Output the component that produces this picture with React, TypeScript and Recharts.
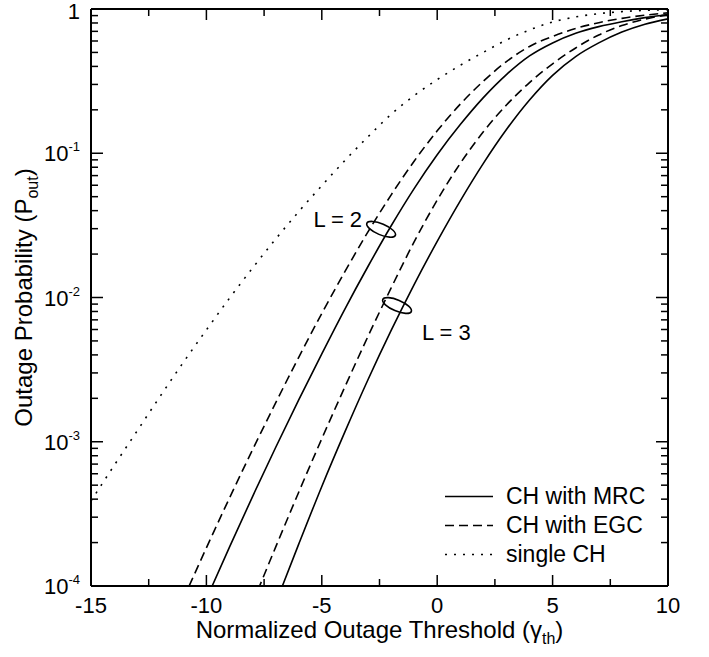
import { LineChart, Line, XAxis, YAxis, Legend, ReferenceDot } from 'recharts';

// normalized outage threshold (dB)
const thresholdDb = [
  -15, -14, -13, -12, -11, -10, -9, -8, -7, -6, -5, -4, -3, -2, -1, 0, 1, 2, 3, 4, 5, 6, 7, 8, 9, 10,
];

// outage probability
const singleCh = [
  3.89e-4, 6.84e-4, 1.19e-3, 2.07e-3, 3.55e-3, 5.96e-3, 9.89e-3, 1.6e-2, 2.54e-2, 3.94e-2, 5.96e-2,
  8.91e-2, 0.13, 0.186, 0.251, 0.324, 0.407, 0.501, 0.61, 0.716, 0.813, 0.881, 0.929, 0.959, 0.979,
  0.991,
];
const egcL2 = [
  null, null, null, null, 8.13e-5, 1.84e-4, 4.07e-4, 8.81e-4, 1.86e-3, 3.85e-3, 7.76e-3, 1.51e-2,
  2.85e-2, 5.13e-2, 8.81e-2, 0.143, 0.219, 0.316, 0.432, 0.55, 0.646, 0.733, 0.804, 0.861, 0.906,
  0.94,
];
const mrcL2 = [
  null, null, null, null, null, 8.13e-5, 1.86e-4, 4.17e-4, 9.12e-4, 1.95e-3, 4.07e-3, 8.32e-3,
  1.64e-2, 3.13e-2, 5.69e-2, 9.77e-2, 0.158, 0.243, 0.351, 0.473, 0.582, 0.679, 0.755, 0.817, 0.871,
  0.916,
];
const egcL3 = [
  null, null, null, null, null, null, null, 7.59e-5, 1.86e-4, 4.47e-4, 1.05e-3, 2.4e-3, 5.37e-3,
  1.16e-2, 2.43e-2, 4.73e-2, 8.51e-2, 0.141, 0.216, 0.309, 0.417, 0.537, 0.661, 0.767, 0.851, 0.912,
];
const mrcL3 = [
  null, null, null, null, null, null, null, null, 7.59e-5, 1.95e-4, 4.9e-4, 1.17e-3, 2.69e-3, 5.89e-3,
  1.23e-2, 2.45e-2, 4.68e-2, 8.51e-2, 0.146, 0.234, 0.347, 0.468, 0.582, 0.692, 0.785, 0.855,
];

// "L = n" group markers (ellipse centre in data coords)
const groupLabels = ['L = 2', 'L = 3'];
const groupX = [-2.43, -1.74];
const groupP = [0.0297, 0.0088];

const xMajor = [-15, -10, -5, 0, 5, 10];
const xTicks = [-15, -12.5, -10, -7.5, -5, -2.5, 0, 2.5, 5, 7.5, 10];
const decades = [-4, -3, -2, -1];

const legendItems = [
  { label: 'CH with MRC', dash: undefined },
  { label: 'CH with EGC', dash: '9 5' },
  { label: 'single CH', dash: '2 7' },
];

const data = thresholdDb.map((x, i) => ({
  x,
  single: singleCh[i],
  egc2: egcL2[i],
  mrc2: mrcL2[i],
  egc3: egcL3[i],
  mrc3: mrcL3[i],
}));

const yTicks: number[] = [];
decades.forEach((d) => {
  for (let k = 1; k <= 9; k++) yTicks.push(k * Math.pow(10, d));
});
yTicks.push(1);

const FONT = '"Liberation Sans", Arial, Helvetica, sans-serif';
const W = 709;
const H = 657;
const PLOT_L = 91;
const PLOT_R = 668;
const PLOT_T = 9;
const PLOT_B = 586;

const isDecade = (v: number) => {
  const d = Math.log10(v);
  return Math.abs(d - Math.round(d)) < 1e-6;
};

const BottomTick = ({ x, y, payload }: any) => {
  const major = xMajor.includes(payload.value);
  return (
    <g>
      <line x1={x} x2={x} y1={y} y2={y - (major ? 11 : 7)} stroke="#000" strokeWidth={1.5} />
      {major && (
        <text x={x} y={y + 27} textAnchor="middle" fontSize={22} fontFamily={FONT} fill="#000">
          {payload.value}
        </text>
      )}
    </g>
  );
};

const TopTick = ({ x, y, payload }: any) => {
  const major = xMajor.includes(payload.value);
  return <line x1={x} x2={x} y1={y} y2={y + (major ? 11 : 7)} stroke="#000" strokeWidth={1.5} />;
};

const LeftTick = ({ x, y, payload }: any) => {
  const v = payload.value;
  const major = isDecade(v);
  const exp = Math.round(Math.log10(v));
  return (
    <g>
      <line x1={x} x2={x + (major ? 12 : 7)} y1={y} y2={y} stroke="#000" strokeWidth={1.5} />
      {major && (
        <text x={80} y={y + (exp === 0 ? 10 : 8)} textAnchor="end" fontSize={22} fontFamily={FONT} fill="#000">
          {exp === 0 ? (
            '1'
          ) : (
            <>
              10
              <tspan fontSize={13} dy={-10}>
                {exp}
              </tspan>
            </>
          )}
        </text>
      )}
    </g>
  );
};

const RightTick = ({ x, y, payload }: any) => {
  const major = isDecade(payload.value);
  return <line x1={x} x2={x - (major ? 12 : 7)} y1={y} y2={y} stroke="#000" strokeWidth={1.5} />;
};

const XTitle = () => (
  <text x={(PLOT_L + PLOT_R) / 2} y={638} textAnchor="middle" fontSize={24} fontFamily={FONT} fill="#000">
    Normalized Outage Threshold (γ
    <tspan fontSize={16} dy={6}>
      th
    </tspan>
    <tspan dy={-6}>)</tspan>
  </text>
);

const YTitle = () => {
  const cx = 32;
  const cy = (PLOT_T + PLOT_B) / 2;
  return (
    <text
      x={cx}
      y={cy}
      transform={`rotate(-90 ${cx} ${cy})`}
      textAnchor="middle"
      fontSize={24}
      fontFamily={FONT}
      fill="#000"
    >
      Outage Probability (P
      <tspan fontSize={16} dy={6}>
        out
      </tspan>
      <tspan dy={-6}>)</tspan>
    </text>
  );
};

const groupShape = (i: number) => (props: any) => {
  const { cx, cy } = props;
  const textPos = i === 0 ? { dx: -19, dy: -2, anchor: 'end' } : { dx: 25, dy: 34, anchor: 'start' };
  return (
    <g>
      <ellipse
        cx={cx}
        cy={cy}
        rx={15.5}
        ry={5.5}
        transform={`rotate(23 ${cx} ${cy})`}
        fill="none"
        stroke="#000"
        strokeWidth={1.6}
      />
      <text
        x={cx + textPos.dx}
        y={cy + textPos.dy}
        textAnchor={textPos.anchor as any}
        fontSize={22}
        fontFamily={FONT}
        fill="#000"
      >
        {groupLabels[i]}
      </text>
    </g>
  );
};

const LegendBox = () => (
  <div style={{ fontFamily: FONT, fontSize: 23, color: '#000' }}>
    {legendItems.map((item) => (
      <div key={item.label} style={{ display: 'flex', alignItems: 'center', height: 29 }}>
        <svg width={48} height={29} style={{ display: 'block' }}>
          <line x1={0} x2={48} y1={14.5} y2={14.5} stroke="#000" strokeWidth={1.6} strokeDasharray={item.dash} />
        </svg>
        <span style={{ marginLeft: 13, whiteSpace: 'nowrap', lineHeight: '29px' }}>{item.label}</span>
      </div>
    ))}
  </div>
);

export default function App() {
  const lineProps = {
    stroke: '#000',
    strokeWidth: 1.6,
    dot: false,
    activeDot: false,
    type: 'monotoneX' as const,
    isAnimationActive: false,
    connectNulls: false,
    legendType: 'none' as const,
  };
  return (
    <div style={{ position: 'absolute', left: 0, top: 0, background: '#fff' }}>
      <LineChart
        width={W}
        height={H}
        data={data}
        margin={{ top: PLOT_T - 1, right: W - PLOT_R - 1, bottom: H - PLOT_B - 40, left: 0 }}
      >
        <XAxis
          dataKey="x"
          type="number"
          domain={[-15, 10]}
          allowDataOverflow
          ticks={xTicks}
          interval={0}
          tickSize={0}
          tickMargin={0}
          tickLine={false}
          tick={<BottomTick />}
          height={40}
          axisLine={{ stroke: '#000', strokeWidth: 2 }}
          label={<XTitle />}
        />
        <XAxis
          xAxisId="top"
          orientation="top"
          dataKey="x"
          type="number"
          domain={[-15, 10]}
          allowDataOverflow
          ticks={xTicks}
          interval={0}
          tickSize={0}
          tickMargin={0}
          tickLine={false}
          tick={<TopTick />}
          height={1}
          axisLine={{ stroke: '#000', strokeWidth: 2 }}
        />
        <YAxis
          scale="log"
          type="number"
          domain={[1e-4, 1]}
          allowDataOverflow
          ticks={yTicks}
          interval={0}
          tickSize={0}
          tickMargin={0}
          tickLine={false}
          tick={<LeftTick />}
          width={PLOT_L}
          axisLine={{ stroke: '#000', strokeWidth: 2 }}
          label={<YTitle />}
        />
        <YAxis
          yAxisId="right"
          orientation="right"
          scale="log"
          type="number"
          domain={[1e-4, 1]}
          allowDataOverflow
          ticks={yTicks}
          interval={0}
          tickSize={0}
          tickMargin={0}
          tickLine={false}
          tick={<RightTick />}
          width={1}
          axisLine={{ stroke: '#000', strokeWidth: 2 }}
        />
        <Line dataKey="single" strokeDasharray="2 7" {...lineProps} />
        <Line dataKey="egc2" strokeDasharray="9 5" {...lineProps} />
        <Line dataKey="mrc2" {...lineProps} />
        <Line dataKey="egc3" strokeDasharray="9 5" {...lineProps} />
        <Line dataKey="mrc3" {...lineProps} />
        {groupLabels.map((label, i) => (
          <ReferenceDot key={label} x={groupX[i]} y={groupP[i]} r={0} shape={groupShape(i)} />
        ))}
        <Legend
          layout="vertical"
          align="center"
          verticalAlign="middle"
          content={<LegendBox />}
          wrapperStyle={{ left: 445, top: 482, width: 230, height: 90 }}
        />
      </LineChart>
    </div>
  );
}
